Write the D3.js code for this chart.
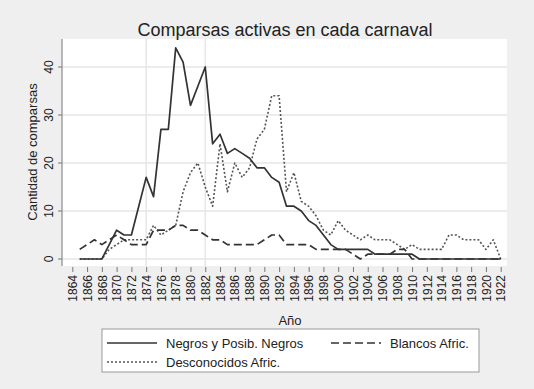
<!DOCTYPE html>
<html>
<head>
<meta charset="utf-8">
<script src="https://d3js.org/d3.v7.min.js"></script>
<style>
body { margin: 0; background: #efefef; }
text { font-family: "Liberation Sans", Arial, sans-serif; fill: #222; }
</style>
</head>
<body>
<div id="chart"></div>
<script>
//DATA
var years = d3.range(1865, 1923);
var tickYears = d3.range(1864, 1923, 2);
var yTicks = [0, 10, 20, 30, 40];
var refYears = [1874, 1882];

var negros = [0, 0, 0, 0, 3, 6, 5, 5, 11, 17, 13, 27, 27, 44, 41, 32, 36, 40, 24, 26,
	22, 23, 22, 21, 19, 19, 17, 16, 11, 11, 10, 8, 7, 5, 3, 2, 2, 2, 2, 2,
	1, 1, 1, 1, 1, 1, 0, 0, 0, 0, 0, 0, 0, 0, 0, 0, 0, 0];
var blancos = [2, 3, 4, 3, 4, 5, 4, 3, 3, 3, 6, 6, 6, 7, 7, 6, 6, 5, 4, 4,
	3, 3, 3, 3, 3, 4, 5, 5, 3, 3, 3, 3, 2, 2, 2, 2, 2, 1, 0, 1,
	1, 1, 1, 2, 2, 0, 0, 0, 0, 0, 0, 0, 0, 0, 0, 0, 0, 0];
var desconocidos = [0, 0, 0, 0, 2, 3, 4, 4, 4, 4, 7, 5, 6, 7, 14, 18, 20, 15, 11, 24,
	14, 20, 17, 19, 25, 27, 34, 34, 14, 18, 12, 11, 9, 6, 5, 8, 6, 5, 4, 5,
	4, 4, 4, 3, 2, 3, 2, 2, 2, 2, 5, 5, 4, 4, 4, 2, 4, 0];

var seriesNames = ['Negros y Posib. Negros', 'Blancos Afric.', 'Desconocidos Afric.'];

var width = 534, height = 389;

var svg = d3.select('#chart').append('svg')
	.attr('width', width)
	.attr('height', height);

svg.append('rect')
	.attr('width', width)
	.attr('height', height)
	.attr('fill', '#efefef');

//SCALES
var x = d3.scaleLinear().domain([1864, 1922]).range([72.3, 500.7]);
var y = d3.scaleLinear().domain([0, 40]).range([259, 67]);

var plotLeft = 62, plotRight = 507, plotTop = 39, plotBottom = 266;

//plot region
svg.append('rect')
	.attr('x', plotLeft)
	.attr('y', plotTop)
	.attr('width', plotRight - plotLeft)
	.attr('height', plotBottom - plotTop)
	.attr('fill', 'white');

//horizontal grid
svg.append('g').selectAll('line')
	.data(yTicks)
	.enter()
	.append('line')
	.attr('x1', plotLeft)
	.attr('x2', plotRight)
	.attr('y1', function(d){ return y(d); })
	.attr('y2', function(d){ return y(d); })
	.attr('stroke', '#e6e6e6')
	.attr('stroke-width', 1.5);

//vertical reference lines
svg.append('g').selectAll('line')
	.data(refYears)
	.enter()
	.append('line')
	.attr('x1', function(d){ return x(d); })
	.attr('x2', function(d){ return x(d); })
	.attr('y1', plotTop)
	.attr('y2', plotBottom)
	.attr('stroke', '#e6e6e6')
	.attr('stroke-width', 1.5);

//AXES
var yAxis = d3.axisLeft(y).tickValues(yTicks).tickSize(4).tickSizeOuter(0);
var gy = svg.append('g')
	.attr('transform', 'translate(' + plotLeft + ',0)')
	.call(yAxis);
gy.select('.domain').attr('d', 'M0,' + plotTop + 'V' + plotBottom).attr('stroke', '#777');
gy.selectAll('.tick line').attr('stroke', '#777');
gy.selectAll('.tick text')
	.attr('font-size', 12)
	.attr('text-anchor', 'middle')
	.attr('transform', 'rotate(-90)')
	.attr('x', function(d){ return -y(d); })
	.attr('y', -9)
	.attr('dy', 0)
	.each(function(){ this.parentNode.removeAttribute('transform'); });
gy.selectAll('.tick line')
	.attr('y1', function(d){ return y(d); })
	.attr('y2', function(d){ return y(d); });

var xAxis = d3.axisBottom(x).tickValues(tickYears).tickSize(5).tickSizeOuter(0).tickFormat(d3.format('d'));
var gx = svg.append('g')
	.attr('transform', 'translate(0,' + (plotBottom + 1) + ')')
	.call(xAxis);
gx.select('.domain').remove();
gx.selectAll('.tick line').attr('stroke', '#777');
gx.selectAll('.tick text')
	.attr('font-size', 12)
	.attr('text-anchor', 'end')
	.attr('transform', 'rotate(-90)')
	.attr('x', -8)
	.attr('y', 0)
	.attr('dy', '0.35em');

//LINES
var lineGen = d3.line()
	.x(function(d){ return x(d[0]); })
	.y(function(d){ return y(d[1]); });

var styles = [
	{ dash: null, color: '#333', w: 1.7 },
	{ dash: '8,4', color: '#333', w: 1.7 },
	{ dash: '2,2', color: '#555', w: 1.6 }
];
var seriesData = [negros, blancos, desconocidos];

//draw dotted first, then dashed, then solid on top
[2, 1, 0].forEach(function(i){
	svg.append('path')
		.datum(years.map(function(yr, j){ return [yr, seriesData[i][j]]; }))
		.attr('d', lineGen)
		.attr('fill', 'none')
		.attr('stroke', styles[i].color)
		.attr('stroke-width', styles[i].w)
		.attr('stroke-dasharray', styles[i].dash)
		.attr('stroke-linejoin', 'round');
});

//TITLES
svg.append('text')
	.attr('x', 285)
	.attr('y', 36)
	.attr('text-anchor', 'middle')
	.attr('font-size', 18)
	.text('Comparsas activas en cada carnaval');

svg.append('text')
	.attr('transform', 'translate(37,152) rotate(-90)')
	.attr('text-anchor', 'middle')
	.attr('font-size', 13)
	.text('Cantidad de comparsas');

svg.append('text')
	.attr('x', 290)
	.attr('y', 325)
	.attr('text-anchor', 'middle')
	.attr('font-size', 13)
	.text('Año');

//LEGEND
var legend = svg.append('g');
legend.append('rect')
	.attr('x', 102)
	.attr('y', 329)
	.attr('width', 377)
	.attr('height', 43)
	.attr('fill', 'white')
	.attr('stroke', '#999');

var legendPos = [[107, 343], [331, 343], [107, 362]];
legendPos.forEach(function(p, i){
	legend.append('line')
		.attr('x1', p[0])
		.attr('x2', p[0] + 50)
		.attr('y1', p[1])
		.attr('y2', p[1])
		.attr('stroke', styles[i].color)
		.attr('stroke-width', styles[i].w)
		.attr('stroke-dasharray', styles[i].dash);
	legend.append('text')
		.attr('x', p[0] + 59)
		.attr('y', p[1])
		.attr('dy', '0.35em')
		.attr('font-size', 13)
		.text(seriesNames[i]);
});
</script>
</body>
</html>
